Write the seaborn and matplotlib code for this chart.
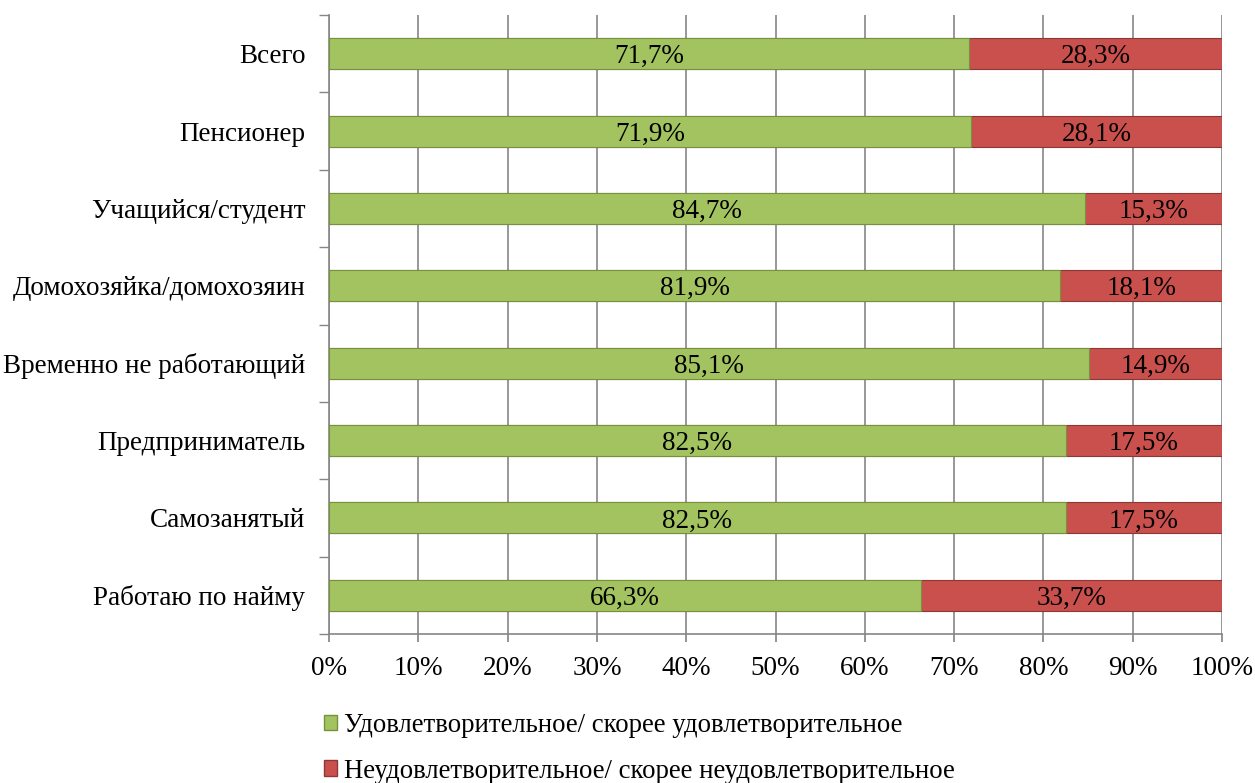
import matplotlib
matplotlib.use("Agg")
import matplotlib.pyplot as plt
import seaborn as sns
import pandas as pd
import numpy as np
from matplotlib.patches import Patch
from matplotlib.ticker import FixedLocator

categories = ["Всего", "Пенсионер", "Учащийся/студент", "Домохозяйка/домохозяин",
              "Временно не работающий", "Предприниматель", "Самозанятый", "Работаю по найму"]
satisfied = [71.7, 71.9, 84.7, 81.9, 85.1, 82.5, 82.5, 66.3]
unsatisfied = [28.3, 28.1, 15.3, 18.1, 14.9, 17.5, 17.5, 33.7]
series_names = ["Удовлетворительное/ скорее удовлетворительное",
                "Неудовлетворительное/ скорее неудовлетворительное"]
x_ticks = [0, 10, 20, 30, 40, 50, 60, 70, 80, 90, 100]

sns.set_theme(style="white")
plt.rcParams['font.family'] = ['Liberation Serif', 'DejaVu Serif']
plt.rcParams['text.color'] = 'black'
plt.rcParams['xtick.color'] = 'black'
plt.rcParams['ytick.color'] = 'black'

green = "#A2C35F"
red = "#C9504D"

df = pd.DataFrame({"cat": categories, "sat": satisfied, "uns": unsatisfied})
df["total"] = df["sat"] + df["uns"]

fig = plt.figure(figsize=(12.55, 7.83), dpi=100)
ax = fig.add_axes([329/1255, 1-634/783, (1222-329)/1255, (634-15)/783])

sns.barplot(data=df, y="cat", x="total", color=red, orient="h", width=0.4,
            edgecolor="#8c3836", linewidth=0.8, ax=ax, saturation=1, zorder=3)
sns.barplot(data=df, y="cat", x="sat", color=green, orient="h", width=0.4,
            edgecolor="#76923C", linewidth=0.8, ax=ax, saturation=1, zorder=4)

fs = 19.5
for i, (s, u) in enumerate(zip(satisfied, unsatisfied)):
    ax.text(s / 2, i, f"{s:.1f}%".replace(".", ","), ha="center", va="center_baseline",
            fontsize=fs, color="black", zorder=5)
    ax.text(s + u / 2, i, f"{u:.1f}%".replace(".", ","), ha="center", va="center_baseline",
            fontsize=fs, color="black", zorder=5)

ax.set_xlim(0, 100)
ax.set_ylim(len(categories) - 0.5, -0.5)
ax.set_xticks(x_ticks)
ax.set_xticklabels([f"{t}%" for t in x_ticks], fontsize=fs)
ax.xaxis.grid(True, color="#868686", linewidth=1.2, zorder=0)
ax.yaxis.grid(False)
ax.set_axisbelow(True)
ax.set_xlabel("")
ax.set_ylabel("")
ax.tick_params(axis="x", which="major", length=6, color="#868686", direction="out",
               pad=10, bottom=True, labelcolor="black")
ax.tick_params(axis="y", which="major", length=0, pad=17, labelsize=fs, labelcolor="black")
ax.yaxis.set_minor_locator(FixedLocator(np.arange(-0.5, len(categories), 1)))
ax.tick_params(axis="y", which="minor", length=7, color="#868686", direction="out", left=True)
for sp in ["top", "right"]:
    ax.spines[sp].set_visible(False)
for sp in ["left", "bottom"]:
    ax.spines[sp].set_color("#868686")
    ax.spines[sp].set_linewidth(1.2)

handles = [Patch(facecolor=green, edgecolor="#76923C"), Patch(facecolor=red, edgecolor="#8c3836")]
fig.legend(handles, series_names, loc="upper left", bbox_to_anchor=(313/1255, 1-702/783),
           frameon=False, fontsize=19.3, ncol=1, labelspacing=0.78, handlelength=0.5,
           handleheight=0.5, handletextpad=0.25, borderaxespad=0, labelcolor="black")

fig.savefig("out.png", dpi=100)
